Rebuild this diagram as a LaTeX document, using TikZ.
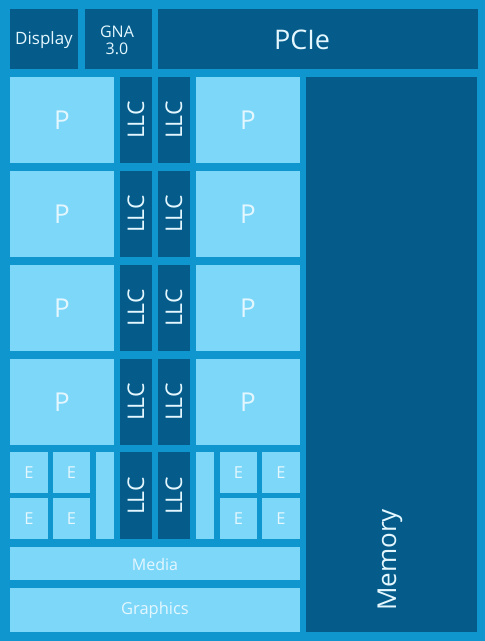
\documentclass[tikz,border=0pt]{standalone}
\usepackage{fontspec}
\setmainfont{Open Sans}
\usepackage{tikz}
\definecolor{chipbg}{RGB}{16,150,207}
\definecolor{chipdark}{RGB}{5,92,138}
\definecolor{chiplight}{RGB}{125,215,249}
\definecolor{chiptext}{RGB}{228,247,255}

\begin{document}
\begin{tikzpicture}[x=1pt,y=-1pt,
  dark/.style={fill=chipdark},
  light/.style={fill=chiplight},
  lbl/.style={text=chiptext,inner sep=0pt,align=center},
  big/.style={lbl,font=\fontsize{26}{26}\selectfont},
  small/.style={lbl,font=\fontsize{16.5}{17}\selectfont}]
\useasboundingbox (0,0) rectangle (485,641);
\fill[chipbg] (0,0) rectangle (485,641);
% top row
\fill[dark] (10,9) rectangle (78,69); % display
\draw (44,40) node[small,font=\fontsize{17}{17}\selectfont] (disp) {Display};
\fill[dark] (85,9) rectangle (152,69); % gna
\draw (117,40) node[small,font=\fontsize{16}{17}\selectfont] (gna) {GNA\\3.0};
\fill[dark] (158,9) rectangle (478,69); % pcie
\draw (302,40) node[big,font=\fontsize{27}{27}\selectfont] (pcie) {PCIe};
% memory
\fill[dark] (306,77) rectangle (477,632);
\draw (390,560) node[big,rotate=90] (mem) {Memory};
% P cores with LLC slices
\foreach \y [count=\i] in {77,171,265,359} {
  \fill[light] (10,\y) rectangle (114,\y+86);
  \draw (62,\y+43) node[big] (pl\i) {P};
  \fill[dark] (120,\y) rectangle (152,\y+86);
  \draw (136,\y+43) node[big,font=\fontsize{23}{23}\selectfont,rotate=90] (lla\i) {LLC};
  \fill[dark] (158,\y) rectangle (190,\y+86);
  \draw (174,\y+43) node[big,font=\fontsize{23}{23}\selectfont,rotate=90] (llb\i) {LLC};
  \fill[light] (196,\y) rectangle (300,\y+86);
  \draw (248,\y+43) node[big] (pr\i) {P};
}
% E cores
\foreach \x/\w [count=\i] in {10/38,53/37,220/37,262/38} {
  \fill[light] (\x,452) rectangle (\x+\w,493);
  \draw (\x+\w/2,473) node[small] (ea\i) {E};
  \fill[light] (\x,498) rectangle (\x+\w,539);
  \draw (\x+\w/2,519) node[small] (eb\i) {E};
}
\fill[light] (96,452) rectangle (114,539);
\fill[light] (196,452) rectangle (214,539);
\fill[dark] (120,452) rectangle (152,539);
\draw (136,496) node[big,font=\fontsize{23}{23}\selectfont,rotate=90] (lla5) {LLC};
\fill[dark] (158,452) rectangle (190,539);
\draw (174,496) node[big,font=\fontsize{23}{23}\selectfont,rotate=90] (llb5) {LLC};
% media and graphics
\fill[light] (10,547) rectangle (300,580);
\draw (155,564) node[small,font=\fontsize{16}{17}\selectfont] (media) {Media};
\fill[light] (10,588) rectangle (300,632);
\draw (155,610) node[small] (gfx) {Graphics};
\end{tikzpicture}
\end{document}
